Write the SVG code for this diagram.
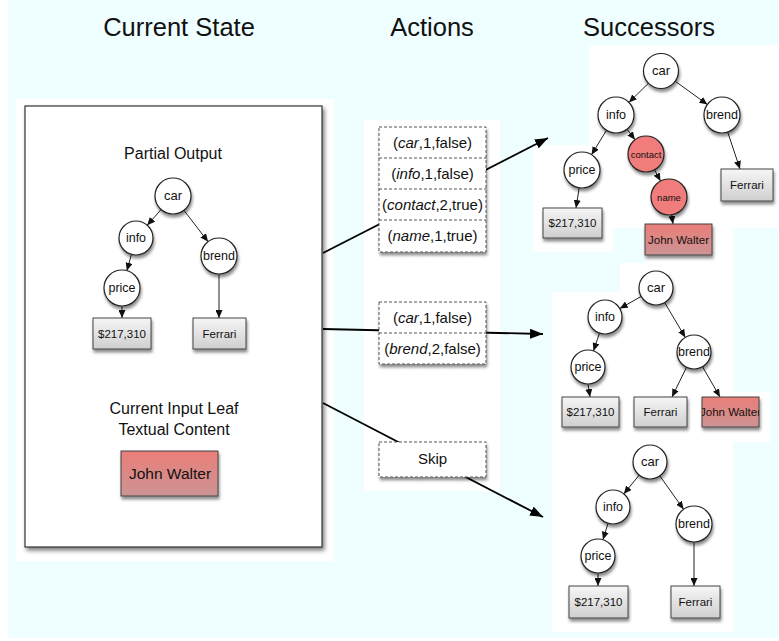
<svg xmlns="http://www.w3.org/2000/svg" width="779" height="641" viewBox="0 0 779 641">
<defs>
<style>
text{font-family:"Liberation Sans",Arial,sans-serif;fill:#111;text-anchor:middle}
.h{font-size:25.5px}
.lbl{font-size:16px}
.n{fill:#fff;stroke:#222;stroke-width:1.2;filter:url(#sh)}
.r{fill:#F07C7C;stroke:#222;stroke-width:1.2;filter:url(#sh)}
.nt{font-size:12.5px}
.st{font-size:9.5px}
.bx{fill:url(#gg);stroke:#444;stroke-width:1;filter:url(#sh)}
.rb{fill:url(#rg);stroke:#444;stroke-width:1;filter:url(#sh)}
.bt{font-size:11.5px}
.e{stroke:#222;stroke-width:1;fill:none;marker-end:url(#sa)}
.c{stroke:#000;stroke-width:1.8;fill:none;marker-end:url(#ba)}
.ab{fill:#fff;stroke:#555;stroke-width:1;stroke-dasharray:3,2;filter:url(#sh)}
.dv{stroke:#555;stroke-width:1;stroke-dasharray:3,2}
.at{font-size:15px}
.w{fill:#fff}
</style>
<filter id="sh" x="-20%" y="-20%" width="150%" height="150%">
<feDropShadow dx="1" dy="3" stdDeviation="1.5" flood-color="#000" flood-opacity="0.45"/>
</filter>
<filter id="psh" x="-5%" y="-5%" width="110%" height="110%">
<feDropShadow dx="2" dy="3" stdDeviation="2" flood-color="#000" flood-opacity="0.5"/>
</filter>
<linearGradient id="gg" x1="0" y1="0" x2="0" y2="1">
<stop offset="0" stop-color="#F6F6F6"/>
<stop offset="1" stop-color="#CFCFCF"/>
</linearGradient>
<linearGradient id="rg" x1="0" y1="0" x2="0" y2="1">
<stop offset="0" stop-color="#EA7E78"/>
<stop offset="1" stop-color="#CC9494"/>
</linearGradient>
<marker id="sa" markerUnits="userSpaceOnUse" markerWidth="8" markerHeight="7" refX="8" refY="3.5" orient="auto">
<path d="M0,0 L8,3.5 L0,7 z" fill="#111"/>
</marker>
<marker id="ba" markerUnits="userSpaceOnUse" markerWidth="13" markerHeight="10" refX="13" refY="5" orient="auto">
<path d="M0,0 L13,5 L0,10 z" fill="#000"/>
</marker>
<clipPath id="cjw"><rect x="702" y="397" width="57" height="30"/></clipPath>
</defs>

<g id="background">
<rect x="0" y="0" width="779" height="641" fill="#fff"/>
<rect x="8" y="0" width="771" height="638" fill="#EFFEFF"/>
<rect class="w" x="16" y="99" width="318" height="462"/>
<rect class="w" x="364" y="120" width="136" height="371"/>
<rect class="w" x="589" y="45" width="190" height="183"/>
<rect class="w" x="533" y="145" width="80" height="107"/>
<rect class="w" x="645" y="145" width="88" height="120"/>
<rect class="w" x="620" y="263" width="113" height="30"/>
<rect class="w" x="552" y="292" width="181" height="340"/>
<rect class="w" x="733" y="392" width="37" height="50"/>
</g>

<g id="headings">
<text class="h" x="179" y="36">Current State</text>
<text class="h" x="432" y="36">Actions</text>
<text class="h" x="649" y="36">Successors</text>
</g>

<g id="current-state">
<rect x="25" y="106" width="297" height="441" fill="#fff" stroke="#333" stroke-width="1.2" filter="url(#psh)"/>
<text class="lbl" x="173" y="159">Partial Output</text>
<text class="lbl" x="174" y="414">Current Input Leaf</text>
<text class="lbl" x="174" y="435">Textual Content</text>
</g>

<g id="cs-edges">
<line class="e" x1="161.1" y1="209.5" x2="147.2" y2="225.3"/>
<line class="e" x1="183.9" y1="210.3" x2="208.1" y2="241.7"/>
<line class="e" x1="131.4" y1="254.4" x2="126.9" y2="270.7"/>
<line class="e" x1="122" y1="306" x2="122" y2="318"/>
<line class="e" x1="219" y1="274" x2="219" y2="318"/>
</g>
<g id="cs-car"><circle class="n" cx="173" cy="196" r="18"/><text class="nt" x="173" y="200" style="font-size:13px">car</text></g>
<g id="cs-info"><circle class="n" cx="136" cy="238" r="17"/><text class="nt" x="136" y="242">info</text></g>
<g id="cs-brend"><circle class="n" cx="219" cy="256" r="18"/><text class="nt" x="219" y="260">brend</text></g>
<g id="cs-price"><circle class="n" cx="122" cy="288" r="18"/><text class="nt" x="122" y="292">price</text></g>
<g id="cs-price-val"><rect class="bx" x="93" y="318" width="58" height="31"/><text class="bt" x="122" y="338">$217,310</text></g>
<g id="cs-brend-val"><rect class="bx" x="193" y="318" width="53" height="31"/><text class="bt" x="219.5" y="338">Ferrari</text></g>
<g id="cs-leaf"><rect class="rb" x="121" y="451" width="97" height="45"/><text x="170" y="479" style="font-size:15.5px">John Walter</text></g>

<g id="connectors">
<line class="c" x1="323" y1="253" x2="548" y2="138"/>
<line class="c" x1="323" y1="329" x2="543" y2="334"/>
<line class="c" x1="323" y1="403" x2="543" y2="517"/>
</g>

<g id="action-1">
<rect class="ab" x="379" y="127" width="107" height="125"/>
<line class="dv" x1="379" y1="158" x2="486" y2="158"/>
<line class="dv" x1="379" y1="189" x2="486" y2="189"/>
<line class="dv" x1="379" y1="220" x2="486" y2="220"/>
<text class="at" x="432.5" y="148">(<tspan font-style="italic">car</tspan>,1,false)</text>
<text class="at" x="432.5" y="179">(<tspan font-style="italic">info</tspan>,1,false)</text>
<text class="at" x="432.5" y="210">(<tspan font-style="italic">contact</tspan>,2,true)</text>
<text class="at" x="432.5" y="241">(<tspan font-style="italic">name</tspan>,1,true)</text>
</g>
<g id="action-2">
<rect class="ab" x="379" y="302" width="107" height="62"/>
<line class="dv" x1="379" y1="333" x2="486" y2="333"/>
<text class="at" x="432.5" y="323">(<tspan font-style="italic">car</tspan>,1,false)</text>
<text class="at" x="432.5" y="354">(<tspan font-style="italic">brend</tspan>,2,false)</text>
</g>
<g id="action-skip">
<rect class="ab" x="379" y="442" width="107" height="35"/>
<text class="at" x="432.5" y="464">Skip</text>
</g>

<g id="s1-edges">
<line class="e" x1="648.5" y1="83.2" x2="628.9" y2="102.4"/>
<line class="e" x1="675.2" y1="81.2" x2="707.4" y2="104.5"/>
<line class="e" x1="606.5" y1="130.3" x2="591.5" y2="154.7"/>
<line class="e" x1="627" y1="129.3" x2="635" y2="139.7"/>
<line class="e" x1="654.5" y1="169.9" x2="660.5" y2="181.1"/>
<line class="e" x1="671.6" y1="214.8" x2="673" y2="224"/>
<line class="e" x1="579.2" y1="187.8" x2="576" y2="208"/>
<line class="e" x1="727.7" y1="132.1" x2="740" y2="169"/>
</g>
<g id="s1-car"><circle class="n" cx="661" cy="71" r="17.5"/><text class="nt" x="661" y="75" style="font-size:13px">car</text></g>
<g id="s1-info"><circle class="n" cx="616" cy="115" r="18"/><text class="nt" x="616" y="119">info</text></g>
<g id="s1-brend"><circle class="n" cx="722" cy="115" r="18"/><text class="nt" x="722" y="119">brend</text></g>
<g id="s1-contact"><circle class="r" cx="646" cy="154" r="18"/><text class="st" x="646" y="157.5">contact</text></g>
<g id="s1-price"><circle class="n" cx="582" cy="170" r="18"/><text class="nt" x="582" y="174">price</text></g>
<g id="s1-name"><circle class="r" cx="669" cy="197" r="18"/><text class="st" x="669" y="200.5">name</text></g>
<g id="s1-ferrari"><rect class="bx" x="721" y="169" width="52" height="32"/><text class="bt" x="747" y="189">Ferrari</text></g>
<g id="s1-price-val"><rect class="bx" x="543" y="208" width="59" height="30"/><text class="bt" x="572.5" y="227">$217,310</text></g>
<g id="s1-jw"><rect class="rb" x="645" y="224" width="67" height="31"/><text class="bt" x="678.5" y="243.5">John Walter</text></g>

<g id="s2-edges">
<line class="e" x1="641.2" y1="296.4" x2="619.8" y2="308.6"/>
<line class="e" x1="664.7" y1="302.6" x2="685.3" y2="337.4"/>
<line class="e" x1="599.5" y1="333.1" x2="593.5" y2="350.9"/>
<line class="e" x1="588" y1="384" x2="590" y2="397"/>
<line class="e" x1="686.5" y1="367.3" x2="672" y2="397"/>
<line class="e" x1="702.5" y1="366.7" x2="720" y2="397"/>
</g>
<g id="s2-car"><circle class="n" cx="656" cy="288" r="17"/><text class="nt" x="656" y="292" style="font-size:13px">car</text></g>
<g id="s2-info"><circle class="n" cx="605" cy="317" r="17"/><text class="nt" x="605" y="321">info</text></g>
<g id="s2-brend"><circle class="n" cx="694" cy="352" r="17"/><text class="nt" x="694" y="356">brend</text></g>
<g id="s2-price"><circle class="n" cx="588" cy="367" r="17"/><text class="nt" x="588" y="371">price</text></g>
<g id="s2-price-val"><rect class="bx" x="562" y="397" width="57" height="30"/><text class="bt" x="590.5" y="416">$217,310</text></g>
<g id="s2-ferrari"><rect class="bx" x="634" y="397" width="53" height="30"/><text class="bt" x="660.5" y="416">Ferrari</text></g>
<g id="s2-jw"><rect class="rb" x="702" y="397" width="57" height="30"/><text class="bt" x="730.5" y="416" clip-path="url(#cjw)">John Walter</text></g>

<g id="s3-edges">
<line class="e" x1="639.2" y1="475.1" x2="623.8" y2="493.9"/>
<line class="e" x1="659.8" y1="475.9" x2="683.6" y2="509.3"/>
<line class="e" x1="608" y1="523.3" x2="603" y2="539.7"/>
<line class="e" x1="598" y1="573" x2="598" y2="586"/>
<line class="e" x1="694" y1="542" x2="694" y2="586"/>
</g>
<g id="s3-car"><circle class="n" cx="650" cy="462" r="17"/><text class="nt" x="650" y="466" style="font-size:13px">car</text></g>
<g id="s3-info"><circle class="n" cx="613" cy="507" r="17"/><text class="nt" x="613" y="511">info</text></g>
<g id="s3-brend"><circle class="n" cx="694" cy="524" r="18"/><text class="nt" x="694" y="528">brend</text></g>
<g id="s3-price"><circle class="n" cx="598" cy="556" r="17"/><text class="nt" x="598" y="560">price</text></g>
<g id="s3-price-val"><rect class="bx" x="569" y="586" width="59" height="32"/><text class="bt" x="598.5" y="606">$217,310</text></g>
<g id="s3-ferrari"><rect class="bx" x="671" y="586" width="49" height="32"/><text class="bt" x="695.5" y="606">Ferrari</text></g>
</svg>
